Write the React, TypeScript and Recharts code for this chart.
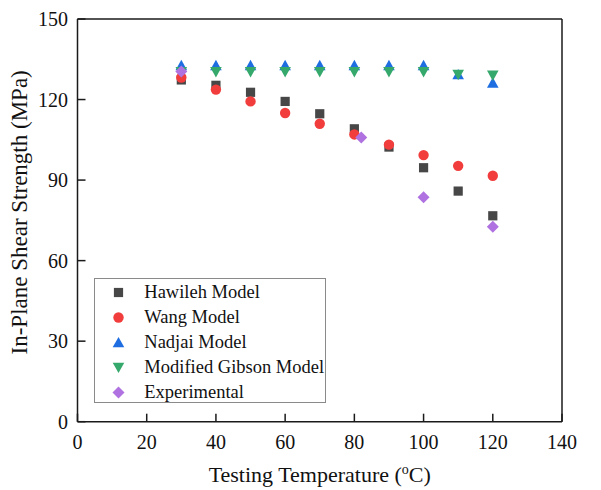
import React from 'react';
import { ScatterChart, Scatter, XAxis, YAxis, ReferenceLine } from 'recharts';

const temps = [30, 40, 50, 60, 70, 80, 90, 100, 110, 120];
const hawileh = [127.3, 125.3, 122.7, 119.3, 114.7, 109.1, 102.3, 94.6, 85.9, 76.7];
const wang = [128.2, 123.7, 119.3, 115.0, 111.0, 107.0, 103.2, 99.3, 95.3, 91.6];
const nadjai = [132.7, 132.7, 132.7, 132.7, 132.7, 132.7, 132.7, 132.7, 129.3, 126.2];
const gibson = [130.3, 130.3, 130.3, 130.3, 130.3, 130.3, 130.3, 130.3, 129.3, 129.0];
const expTemps = [30, 82, 100, 120];
const experimental = [130.4, 105.9, 83.6, 72.6];

const xTicks = [0, 20, 40, 60, 80, 100, 120, 140];
const yTicks = [0, 30, 60, 90, 120, 150];

const FONT = '"Liberation Serif", serif';

type ShapeKind = 'square' | 'circle' | 'up' | 'down' | 'diamond';

const drawShape = (kind: ShapeKind, cx: number, cy: number, fill: string) => {
  switch (kind) {
    case 'square':
      return <rect x={cx - 4.6} y={cy - 4.6} width={9.2} height={9.2} fill={fill} />;
    case 'circle':
      return <circle cx={cx} cy={cy} r={5.2} fill={fill} />;
    case 'up':
      return <polygon points={`${cx},${cy - 5.6} ${cx + 5.8},${cy + 4.8} ${cx - 5.8},${cy + 4.8}`} fill={fill} />;
    case 'down':
      return <polygon points={`${cx},${cy + 5.6} ${cx + 5.8},${cy - 4.8} ${cx - 5.8},${cy - 4.8}`} fill={fill} />;
    case 'diamond':
    default:
      return <polygon points={`${cx},${cy - 6} ${cx + 6},${cy} ${cx},${cy + 6} ${cx - 6},${cy}`} fill={fill} />;
  }
};

const seriesDefs: { name: string; xs: number[]; ys: number[]; color: string; kind: ShapeKind }[] = [
  { name: 'Hawileh Model', xs: temps, ys: hawileh, color: '#474747', kind: 'square' },
  { name: 'Wang Model', xs: temps, ys: wang, color: '#f23d3d', kind: 'circle' },
  { name: 'Nadjai Model', xs: temps, ys: nadjai, color: '#1e6ee2', kind: 'up' },
  { name: 'Modified Gibson Model', xs: temps, ys: gibson, color: '#35a86b', kind: 'down' },
  { name: 'Experimental', xs: expTemps, ys: experimental, color: '#af72e0', kind: 'diamond' },
];

const LegendBox = () => (
  <div
    style={{
      position: 'absolute',
      left: 94.3,
      top: 278.3,
      border: '1px solid #8a8a8a',
      width: 232,
      height: 125,
      boxSizing: 'border-box',
      paddingTop: 1,
      fontFamily: FONT,
      fontSize: 18.5,
      color: '#111',
      background: '#fff',
    }}
  >
    {seriesDefs.map((def) => (
      <div key={def.name} style={{ height: 25, display: 'flex', alignItems: 'center' }}>
        <svg width={49} height={25} style={{ display: 'block', flex: 'none' }}>
          {drawShape(def.kind, 23.5, 12.5, def.color)}
        </svg>
        <span style={{ whiteSpace: 'nowrap', lineHeight: '25px' }}>{def.name}</span>
      </div>
    ))}
  </div>
);

const XLabel = (props: any) => {
  const vb = props.viewBox || {};
  const cx = vb.x + vb.width / 2;
  return (
    <text x={cx} y={vb.y + 60} textAnchor="middle" fontFamily={FONT} fontSize={22} fill="#111">
      Testing Temperature (
      <tspan dy={-8} fontSize={14}>o</tspan>
      <tspan dy={8}>C)</tspan>
    </text>
  );
};

const YLabel = (props: any) => {
  const vb = props.viewBox || {};
  const x = 27;
  const y = vb.y + vb.height / 2 - 8;
  return (
    <text
      x={x}
      y={y}
      textAnchor="middle"
      fontFamily={FONT}
      fontSize={23}
      fill="#111"
      transform={`rotate(-90 ${x} ${y})`}
    >
      In-Plane Shear Strength (MPa)
    </text>
  );
};

export default function App() {
  return (
    <div style={{ position: 'absolute', left: 0, top: 0, width: 601, height: 490, background: '#fff' }}>
      <ScatterChart width={601} height={490} margin={{ top: 19, right: 39, left: 0, bottom: 0 }}>
        <XAxis
          type="number"
          dataKey="x"
          domain={[0, 140]}
          ticks={xTicks}
          allowDataOverflow
          height={68.3}
          stroke="#1a1a1a"
          strokeWidth={1.5}
          tickSize={-8}
          tickMargin={20.6}
          tick={{ fontFamily: FONT, fontSize: 20, fill: '#111' }}
          label={<XLabel />}
        />
        <YAxis
          type="number"
          dataKey="y"
          domain={[0, 150]}
          ticks={yTicks}
          allowDataOverflow
          width={77.5}
          stroke="#1a1a1a"
          strokeWidth={1.5}
          tickSize={-8}
          tickMargin={17.5}
          tick={{ fontFamily: FONT, fontSize: 20, fill: '#111' }}
          label={<YLabel />}
        />
        <ReferenceLine y={150} stroke="#1a1a1a" strokeWidth={1.5} />
        <ReferenceLine x={140} stroke="#1a1a1a" strokeWidth={1.5} />
        {seriesDefs.map((s) => (
          <Scatter
            key={s.name}
            name={s.name}
            data={s.xs.map((x, i) => ({ x, y: s.ys[i] }))}
            fill={s.color}
            isAnimationActive={false}
            shape={(p: any) => drawShape(s.kind, p.cx, p.cy, s.color)}
          />
        ))}
      </ScatterChart>
      <LegendBox />
    </div>
  );
}
